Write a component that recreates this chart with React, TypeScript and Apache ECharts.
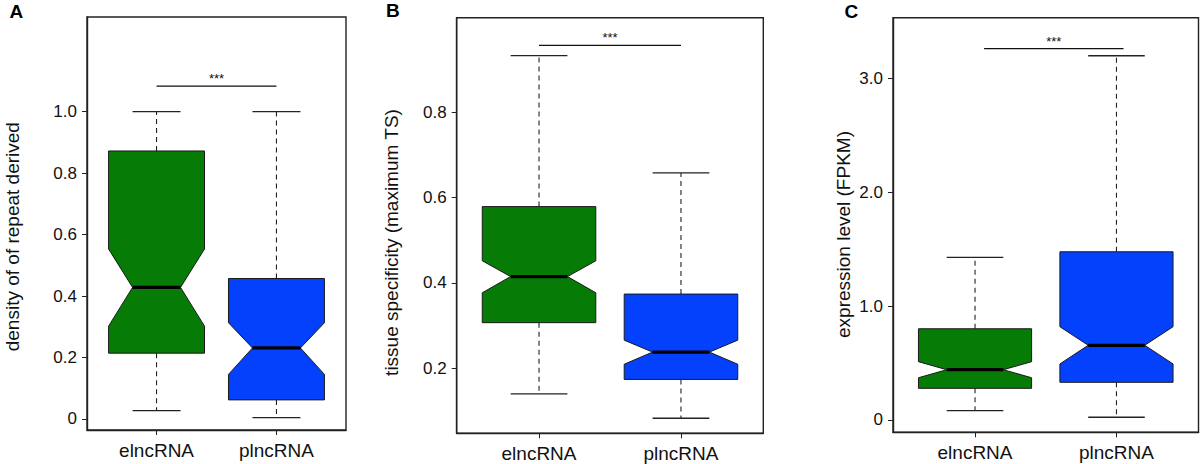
import React, { useEffect, useRef } from "react";
import * as echarts from "echarts";

const FONT = '"Liberation Sans", Arial, Helvetica, sans-serif';

const categories = ["elncRNA", "plncRNA"];
const boxColors = ["#067c06", "#0441fd"];

// Panel A: density of repeat derived
const aLow = [0.027, 0.004];
const aQ1 = [0.214, 0.062];
const aNotchLo = [0.302, 0.145];
const aMedian = [0.428, 0.231];
const aNotchHi = [0.553, 0.313];
const aQ3 = [0.872, 0.457];
const aHigh = [1.0, 1.0];
const aTicks = [0, 0.2, 0.4, 0.6, 0.8, 1.0];
const aSig = [1.0, 2.0, 1.083];

// Panel B: tissue specificity
const bLow = [0.14, 0.083];
const bQ1 = [0.307, 0.174];
const bNotchLo = [0.377, 0.2095];
const bMedian = [0.415, 0.238];
const bNotchHi = [0.452, 0.266];
const bQ3 = [0.579, 0.374];
const bHigh = [0.933, 0.658];
const bTicks = [0.2, 0.4, 0.6, 0.8];
const bSig = [1.0, 2.0, 0.957];

// Panel C: expression level
const cLow = [0.082, 0.024];
const cQ1 = [0.278, 0.331];
const cNotchLo = [0.371, 0.492];
const cMedian = [0.4415, 0.656];
const cNotchHi = [0.512, 0.819];
const cQ3 = [0.801, 1.477];
const cHigh = [1.428, 3.198];
const cTicks = [0, 1.0, 2.0, 3.0];
const cSig = [1.064, 2.05, 3.26];

const panels = [
  {
    letter: "A", title: "density of of repeat derived",
    low: aLow, q1: aQ1, nlo: aNotchLo, med: aMedian, nhi: aNotchHi, q3: aQ3, high: aHigh,
    ticks: aTicks, sig: aSig, yMin: -0.036, yMax: 1.308,
    grid: { left: 87, right: 854, top: 17, bottom: 34 },
    letterPos: [9.5, 11], titlePos: [12.5, 236.7],
  },
  {
    letter: "B", title: "tissue specificity (maximum TS)",
    low: bLow, q1: bQ1, nlo: bNotchLo, med: bMedian, nhi: bNotchHi, q3: bQ3, high: bHigh,
    ticks: bTicks, sig: bSig, yMin: 0.0477, yMax: 1.0217,
    grid: { left: 456.7, right: 436.7, top: 17.7, bottom: 30.7 },
    letterPos: [386, 10.5], titlePos: [391.5, 242.5],
  },
  {
    letter: "C", title: "expression level (FPKM)",
    low: cLow, q1: cQ1, nlo: cNotchLo, med: cMedian, nhi: cNotchHi, q3: cQ3, high: cHigh,
    ticks: cTicks, sig: cSig, yMin: -0.108, yMax: 3.532,
    grid: { left: 893, right: 1.5, top: 17.7, bottom: 31.7 },
    letterPos: [844.5, 11], titlePos: [843, 234.5],
  },
];

const fmtTick = (v: number) => (Math.abs(v) < 1e-9 ? "0" : v.toFixed(1));

export default function App() {
  const ref = useRef<HTMLDivElement>(null);
  useEffect(() => {
    if (!ref.current) return;
    const chart = echarts.init(ref.current, null, { renderer: "svg" });

    const grids: any[] = [];
    const xAxes: any[] = [];
    const yAxes: any[] = [];
    const series: any[] = [];
    const graphics: any[] = [];

    panels.forEach((p, i) => {
      grids.push({
        ...p.grid,
        show: true,
        borderColor: "#222",
        borderWidth: 1.4,
        backgroundColor: "transparent",
      });
      xAxes.push({
        type: "value",
        gridIndex: i,
        min: 0.42,
        max: 2.58,
        splitLine: { show: false },
        axisLine: { show: true, onZero: false, lineStyle: { color: "#222", width: 1.4 } },
        axisTick: {
          show: true,
          customValues: [1, 2],
          length: 5,
          lineStyle: { color: "#222", width: 1 },
        },
        axisLabel: {
          customValues: [1, 2],
          formatter: (v: number) => categories[Math.round(v) - 1] ?? "",
          fontSize: 19,
          fontFamily: FONT,
          color: "#111",
          margin: 11,
        },
      });
      yAxes.push({
        type: "value",
        gridIndex: i,
        min: p.yMin,
        max: p.yMax,
        splitLine: { show: false },
        axisLine: { show: true, onZero: false, lineStyle: { color: "#222", width: 1.4 } },
        axisTick: {
          show: true,
          customValues: p.ticks,
          length: 5,
          lineStyle: { color: "#222", width: 1 },
        },
        axisLabel: {
          customValues: p.ticks,
          formatter: (v: number) => fmtTick(v),
          fontSize: 17,
          fontFamily: FONT,
          color: "#111",
          margin: 10,
        },
      });

      const data = categories.map((_, k) => [
        k + 1, p.low[k], p.q1[k], p.nlo[k], p.med[k], p.nhi[k], p.q3[k], p.high[k], k,
      ]);

      series.push({
        type: "custom",
        xAxisIndex: i,
        yAxisIndex: i,
        clip: false,
        encode: { x: 0, y: [1, 2, 3, 4, 5, 6, 7] },
        data,
        renderItem: (params: any, api: any) => {
          const x = api.value(0);
          const low = api.value(1), q1 = api.value(2), nlo = api.value(3);
          const med = api.value(4), nhi = api.value(5), q3 = api.value(6), high = api.value(7);
          const ci = api.value(8);
          const w = 0.4;
          const P = (xx: number, yy: number) => api.coord([xx, yy]);
          const dash = { stroke: "#222", lineWidth: 1.1, lineDash: [5, 4], fill: null };
          const solid = { stroke: "#222", lineWidth: 1.3, fill: null };
          const line = (a: number[], b: number[], style: any) => ({
            type: "line",
            shape: { x1: a[0], y1: a[1], x2: b[0], y2: b[1] },
            style,
          });
          const pts = [
            P(x - w, q3), P(x + w, q3), P(x + w, nhi), P(x + w / 2, med), P(x + w, nlo),
            P(x + w, q1), P(x - w, q1), P(x - w, nlo), P(x - w / 2, med), P(x - w, nhi),
          ];
          return {
            type: "group",
            children: [
              line(P(x, q3), P(x, high), dash),
              line(P(x, q1), P(x, low), dash),
              line(P(x - w / 2, high), P(x + w / 2, high), solid),
              line(P(x - w / 2, low), P(x + w / 2, low), solid),
              {
                type: "polygon",
                shape: { points: pts },
                style: { fill: boxColors[ci], stroke: "#1a1a1a", lineWidth: 1 },
              },
              line(P(x - w / 2, med), P(x + w / 2, med), { stroke: "#000", lineWidth: 3.2 }),
            ],
          };
        },
      });

      series.push({
        type: "custom",
        xAxisIndex: i,
        yAxisIndex: i,
        clip: false,
        encode: { x: [0, 1], y: 2 },
        data: [p.sig],
        renderItem: (params: any, api: any) => {
          const a = api.coord([api.value(0), api.value(2)]);
          const b = api.coord([api.value(1), api.value(2)]);
          return {
            type: "group",
            children: [
              {
                type: "line",
                shape: { x1: a[0], y1: a[1], x2: b[0], y2: b[1] },
                style: { stroke: "#111", lineWidth: 1.3 },
              },
              {
                type: "text",
                x: (a[0] + b[0]) / 2,
                y: a[1] - 1,
                style: {
                  text: "***",
                  fontSize: 13,
                  fontFamily: FONT,
                  fill: "#111",
                  align: "center",
                  verticalAlign: "bottom",
                },
              },
            ],
          };
        },
      });

      graphics.push({
        type: "text",
        x: p.letterPos[0],
        y: p.letterPos[1],
        style: {
          text: p.letter,
          fontSize: 19,
          fontWeight: "bold",
          fontFamily: FONT,
          fill: "#000",
          align: "left",
          verticalAlign: "middle",
        },
      });
      graphics.push({
        type: "text",
        x: p.titlePos[0],
        y: p.titlePos[1],
        rotation: Math.PI / 2,
        style: {
          text: p.title,
          fontSize: 19,
          fontFamily: FONT,
          fill: "#111",
          align: "center",
          verticalAlign: "middle",
        },
      });
    });

    chart.setOption({
      animation: false,
      backgroundColor: "#fff",
      grid: grids,
      xAxis: xAxes,
      yAxis: yAxes,
      series,
      graphic: graphics,
    });
    return () => chart.dispose();
  }, []);

  return (
    <div
      ref={ref}
      style={{ position: "fixed", left: 0, top: 0, width: 1200, height: 464 }}
    />
  );
}
